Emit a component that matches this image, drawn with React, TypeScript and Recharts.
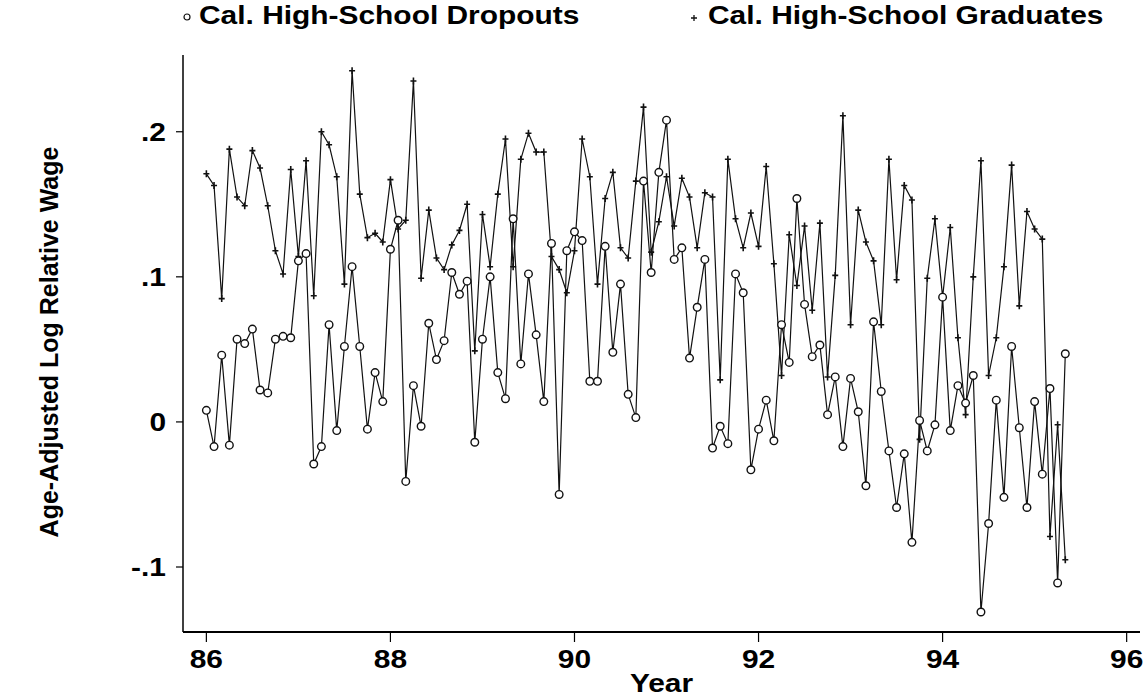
import { LineChart, Line, XAxis, YAxis } from "recharts";

// monthly series starting Jan 1986
const START_YEAR = 86;

const dropouts = [
  0.008, -0.017, 0.046, -0.016, 0.057, 0.054, 0.064, 0.022, 0.02, 0.057, 0.059, 0.058,
  0.111, 0.116, -0.029, -0.017, 0.067, -0.006, 0.052, 0.107, 0.052, -0.005, 0.034, 0.014,
  0.119, 0.139, -0.041, 0.025, -0.003, 0.068, 0.043, 0.056, 0.103, 0.088, 0.097, -0.014,
  0.057, 0.1, 0.034, 0.016, 0.14, 0.04, 0.102, 0.06, 0.014, 0.123, -0.05, 0.118,
  0.131, 0.125, 0.028, 0.028, 0.121, 0.048, 0.095, 0.019, 0.003, 0.166, 0.103, 0.172,
  0.208, 0.112, 0.12, 0.044, 0.079, 0.112, -0.018, -0.003, -0.015, 0.102, 0.089, -0.033,
  -0.005, 0.015, -0.013, 0.067, 0.041, 0.154, 0.081, 0.045, 0.053, 0.005, 0.031, -0.017,
  0.03, 0.007, -0.044, 0.069, 0.021, -0.02, -0.059, -0.022, -0.083, 0.001, -0.02, -0.002,
  0.086, -0.006, 0.025, 0.013, 0.032, -0.131, -0.07, 0.015, -0.052, 0.052, -0.004, -0.059,
  0.014, -0.036, 0.023, -0.111, 0.047,
];

const graduates = [
  0.171, 0.163, 0.085, 0.188, 0.155, 0.149, 0.187, 0.175, 0.149, 0.118, 0.102, 0.174,
  0.114, 0.18, 0.087, 0.2, 0.191, 0.169, 0.095, 0.242, 0.157, 0.127, 0.13, 0.124,
  0.167, 0.133, 0.139, 0.235, 0.099, 0.146, 0.113, 0.105, 0.122, 0.132, 0.15, 0.049,
  0.143, 0.107, 0.157, 0.195, 0.107, 0.181, 0.199, 0.186, 0.186, 0.114, 0.105, 0.089,
  0.118, 0.195, 0.169, 0.095, 0.154, 0.172, 0.12, 0.113, 0.166, 0.217, 0.117, 0.138,
  0.169, 0.135, 0.168, 0.155, 0.12, 0.158, 0.155, 0.029, 0.181, 0.14, 0.12, 0.144,
  0.121, 0.176, 0.109, 0.032, 0.129, 0.094, 0.135, 0.077, 0.137, 0.031, 0.101, 0.211,
  0.067, 0.146, 0.124, 0.111, 0.067, 0.181, 0.098, 0.163, 0.153, -0.012, 0.099, 0.14,
  0.086, 0.134, 0.058, 0.005, 0.1, 0.18, 0.032, 0.058, 0.107, 0.177, 0.08, 0.145,
  0.133, 0.126, -0.079, -0.002, -0.095,
];

const xTicks = [86, 88, 90, 92, 94, 96];
const yTicks = [-0.1, 0, 0.1, 0.2];

const data = dropouts.map((d, i) => ({
  year: START_YEAR + i / 12,
  dropouts: d,
  graduates: graduates[i],
}));

const FONT = "'Liberation Sans', Arial, sans-serif";
const INK = "#111";
const STRETCH = 1.15; // the scanned text is a bit wider than it is tall

const fmtY = (v: number) =>
  v === 0 ? "0" : (v < 0 ? "-" : "") + String(Math.abs(v)).replace(/^0/, "");

const textStyle = { fontFamily: FONT, fontWeight: 700, fontSize: 26, fill: "#000" };

function XTick({ x, y, payload }: any) {
  return (
    <g transform={`translate(${x},${y})`}>
      <text transform={`scale(${STRETCH},1)`} textAnchor="middle" dy="0.71em" style={textStyle}>
        {payload.value}
      </text>
    </g>
  );
}

function YTick({ x, y, payload }: any) {
  return (
    <g transform={`translate(${x},${y})`}>
      <text transform={`scale(${STRETCH},1)`} textAnchor="end" dy="0.36em" style={textStyle}>
        {fmtY(payload.value)}
      </text>
    </g>
  );
}

function CircleDot(props: any) {
  const { cx, cy, index } = props;
  if (cx == null || cy == null) return null;
  return <circle key={`c${index}`} cx={cx} cy={cy} r={3.8} fill="#fff" stroke={INK} strokeWidth={1.4} />;
}

function PlusDot(props: any) {
  const { cx, cy, index } = props;
  if (cx == null || cy == null) return null;
  return (
    <path
      key={`p${index}`}
      d={`M${cx - 3},${cy}H${cx + 3}M${cx},${cy - 3.5}V${cy + 3.5}`}
      stroke={INK}
      strokeWidth={1.6}
    />
  );
}

const legendText = {
  position: "absolute" as const,
  top: 0,
  whiteSpace: "nowrap" as const,
  transform: `scaleX(${STRETCH})`,
  transformOrigin: "left top",
};

export default function App() {
  return (
    <div style={{ position: "absolute", left: 0, top: 0, width: 1147, height: 698, background: "#fff" }}>
      <div style={{ position: "absolute", left: 0, top: 0, width: 1147, height: 40, fontFamily: FONT, fontWeight: 700, fontSize: 26, lineHeight: "30px", color: "#000" }}>
        <svg style={{ position: "absolute", left: 181, top: 11 }} width={12} height={12}>
          <circle cx={6} cy={6} r={3} fill="none" stroke={INK} strokeWidth={1.2} />
        </svg>
        <span style={{ ...legendText, left: 199 }}>Cal. High-School Dropouts</span>
        <svg style={{ position: "absolute", left: 688, top: 12 }} width={12} height={12}>
          <path d="M3,6H9M6,3V9" stroke={INK} strokeWidth={1.3} />
        </svg>
        <span style={{ ...legendText, left: 708 }}>Cal. High-School Graduates</span>
      </div>
      <LineChart width={1147} height={698} data={data} margin={{ top: 55, right: 7, bottom: 0, left: 0 }}>
        <XAxis
          dataKey="year"
          type="number"
          domain={[85.746, 96.145]}
          ticks={xTicks}
          allowDataOverflow
          height={66}
          stroke="#000"
          strokeWidth={2}
          tickSize={10}
          tickMargin={8}
          tick={XTick}
          tickLine={{ stroke: "#000", strokeWidth: 1.2 }}
          label={({ viewBox }: any) => (
            <g transform={`translate(${viewBox.x + viewBox.width / 2},692)`}>
              <text transform={`scale(${STRETCH},1)`} textAnchor="middle" style={textStyle}>
                Year
              </text>
            </g>
          )}
        />
        <YAxis
          type="number"
          domain={[-0.1448, 0.2529]}
          ticks={yTicks}
          allowDataOverflow
          width={183}
          stroke="#000"
          strokeWidth={1.5}
          tickSize={7}
          tickMargin={10}
          tick={YTick}
          tickLine={{ stroke: "#000", strokeWidth: 1.2 }}
          label={() => (
            <text x={58} y={342} textAnchor="middle" transform="rotate(-90 58 342)" style={{ ...textStyle, fontSize: 25 }}>
              Age-Adjusted Log Relative Wage
            </text>
          )}
        />
        <Line
          dataKey="graduates"
          stroke={INK}
          strokeWidth={1.2}
          dot={PlusDot}
          activeDot={false}
          isAnimationActive={false}
        />
        <Line
          dataKey="dropouts"
          stroke={INK}
          strokeWidth={1.2}
          dot={CircleDot}
          activeDot={false}
          isAnimationActive={false}
        />
      </LineChart>
    </div>
  );
}
